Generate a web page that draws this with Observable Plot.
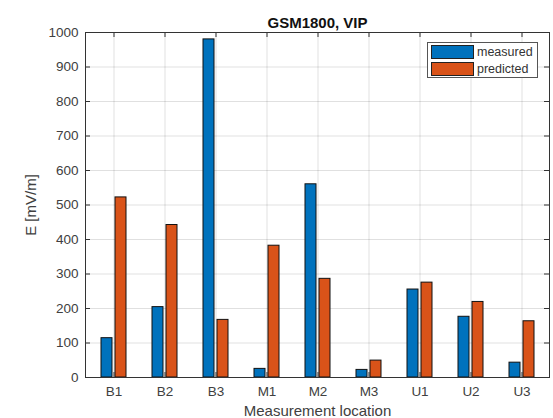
<!DOCTYPE html>
<html>
<head>
<meta charset="utf-8">
<script src="https://cdn.jsdelivr.net/npm/d3@7"></script>
<script src="https://cdn.jsdelivr.net/npm/@observablehq/plot@0.6"></script>
<style>
  html, body { margin: 0; padding: 0; background: #fff; }
  #wrap { position: relative; width: 553px; height: 418px; font-family: "Liberation Sans", Arial, sans-serif; }
  #legend { position: absolute; left: 427px; top: 42px; width: 111px; height: 36px; border: 1px solid #555; background: #fff; box-sizing: border-box; }
  .item { position: absolute; left: 3px; height: 14px; display: flex; align-items: center; font-size: 12.5px; color: #333; }
  .sw { width: 43px; height: 14px; border: 1px solid #222; box-sizing: border-box; margin-right: 3px; }
</style>
</head>
<body>
<div id="wrap"></div>
<script>
const categories = ["B1", "B2", "B3", "M1", "M2", "M3", "U1", "U2", "U3"];
const measured   = [114, 204, 980, 25, 560, 22, 255, 176, 43];
const predicted  = [522, 442, 167, 382, 286, 49, 275, 219, 163];
const yTicks     = [0, 100, 200, 300, 400, 500, 600, 700, 800, 900, 1000];
const seriesNames = ["measured", "predicted"];
const seriesColors = ["#0072BD", "#D95319"];
const title = "GSM1800, VIP";

const rowsM = categories.map((c, i) => ({cat: c, series: "measured", value: measured[i]}));
const rowsP = categories.map((c, i) => ({cat: c, series: "predicted", value: predicted[i]}));

const W = 553, H = 418, mL = 85, mR = 4, mT = 32, mB = 41;
const fw = W - mL - mR, fh = H - mT - mB;
const ink = "#333";
const txt = "#404040";

const chart = Plot.plot({
  width: W, height: H,
  marginLeft: mL, marginRight: mR, marginTop: mT, marginBottom: mB,
  style: {fontFamily: "'Liberation Sans', Arial, sans-serif", background: "#fff", color: txt},
  x: {type: "band", domain: categories, padding: 0},
  y: {domain: [0, 1000]},
  marks: [
    Plot.gridY(yTicks, {stroke: "#000", strokeOpacity: 0.12}),
    Plot.gridX(categories, {stroke: "#000", strokeOpacity: 0.12}),
    Plot.barY(rowsM, {x: "cat", y: "value", fill: seriesColors[0], stroke: "#111", strokeWidth: 1, insetLeft: 13, insetRight: 27}),
    Plot.barY(rowsP, {x: "cat", y: "value", fill: seriesColors[1], stroke: "#111", strokeWidth: 1, insetLeft: 27, insetRight: 13}),
    Plot.ruleY(yTicks, {stroke: ink, insetRight: fw - 5}),
    Plot.ruleY(yTicks, {stroke: ink, insetLeft: fw - 5}),
    Plot.ruleX(categories, {stroke: ink, insetBottom: fh - 5}),
    Plot.ruleX(categories, {stroke: ink, insetTop: fh - 5}),
    Plot.axisY(yTicks, {tickSize: 0, tickPadding: 7, fontSize: 13.5, tickFormat: d => String(d), label: "E [mV/m]", labelAnchor: "center", labelArrow: "none", labelOffset: 60}),
    Plot.axisX({tickSize: 0, tickPadding: 9, fontSize: 13.5, label: "Measurement location", labelAnchor: "center", labelArrow: "none", labelOffset: 38}),
    Plot.frame({stroke: ink}),
    Plot.text([title], {frameAnchor: "top", dy: -15, fontWeight: "bold", fontSize: 15, fill: "#111"})
  ]
});

chart.querySelectorAll("g[aria-label='y-axis label'] text, g[aria-label='x-axis label'] text").forEach(t => t.setAttribute("font-size", "15"));

const wrap = document.getElementById("wrap");
wrap.appendChild(chart);

const legend = document.createElement("div");
legend.id = "legend";
seriesNames.forEach((name, i) => {
  const item = document.createElement("div");
  item.className = "item";
  item.style.top = (2 + i * 17) + "px";
  const sw = document.createElement("div");
  sw.className = "sw";
  sw.style.background = seriesColors[i];
  const lab = document.createElement("span");
  lab.textContent = name;
  item.appendChild(sw);
  item.appendChild(lab);
  legend.appendChild(item);
});
wrap.appendChild(legend);
</script>
</body>
</html>
